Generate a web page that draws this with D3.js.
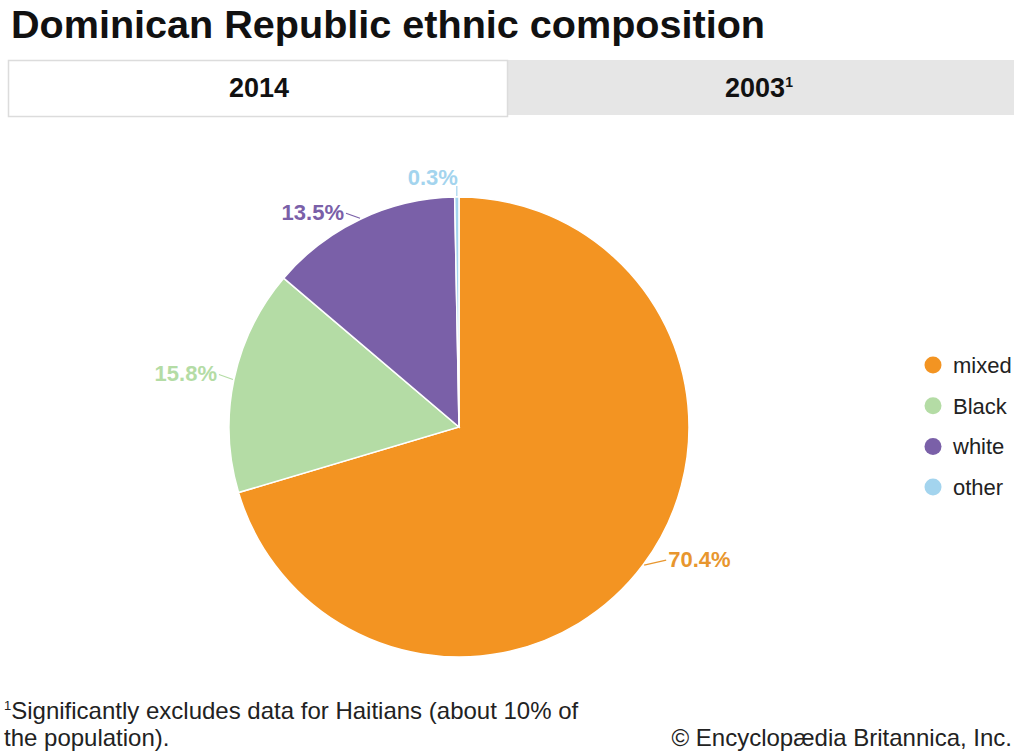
<!DOCTYPE html>
<html>
<head>
<meta charset="utf-8">
<script src="https://cdn.jsdelivr.net/npm/d3@7"></script>
<style>
  body { margin: 0; background: #fff; }
  svg { display: block; font-family: "Liberation Sans", Arial, sans-serif; }
</style>
</head>
<body>
<div id="chart"></div>
<script>
// Data
const categories = ["mixed", "Black", "white", "other"];
const values = [70.4, 15.8, 13.5, 0.3];
const labels = ["70.4%", "15.8%", "13.5%", "0.3%"];
const colors = ["#F39422", "#B4DCA5", "#7A60A8", "#A3D4EE"];
const labelColors = ["#E8962E", "#B4DCA5", "#7A60A8", "#A3D4EE"];
const tabs = ["2014", "2003"];

const width = 1024, height = 753;

const svg = d3.select("#chart")
    .append("svg")
    .attr("width", width)
    .attr("height", height);

// Title
svg.append("text")
    .attr("x", 11)
    .attr("y", 38)
    .attr("font-size", 39)
    .attr("font-weight", "bold")
    .attr("fill", "#111")
    .attr("textLength", 754)
    .attr("lengthAdjust", "spacingAndGlyphs")
    .text("Dominican Republic ethnic composition");

// Tabs
svg.append("rect")
    .attr("x", 507).attr("y", 60)
    .attr("width", 507).attr("height", 55)
    .attr("fill", "#e6e6e6");

svg.append("rect")
    .attr("x", 8.5).attr("y", 60.5)
    .attr("width", 499).attr("height", 56)
    .attr("fill", "#fff")
    .attr("stroke", "#dcdcdc")
    .attr("stroke-width", 1.5);

svg.append("text")
    .attr("x", 259).attr("y", 97)
    .attr("text-anchor", "middle")
    .attr("font-size", 27).attr("font-weight", "bold")
    .attr("fill", "#111")
    .text(tabs[0]);

const t2 = svg.append("text")
    .attr("x", 759).attr("y", 97)
    .attr("text-anchor", "middle")
    .attr("font-size", 27).attr("font-weight", "bold")
    .attr("fill", "#111");
t2.append("tspan").text(tabs[1]);
t2.append("tspan").attr("font-size", 14).attr("dy", -10).text("1");

// Pie
const cx = 459, cy = 427, radius = 230;
const g = svg.append("g").attr("transform", `translate(${cx},${cy})`);

const data = categories.map((c, i) => ({ name: c, value: values[i], label: labels[i], i }));

const pie = d3.pie().sort(null).value(d => d.value);
const arc = d3.arc().innerRadius(0).outerRadius(radius);

const arcs = pie(data);

g.selectAll("path.slice")
    .data(arcs)
    .enter()
    .append("path")
    .attr("class", "slice")
    .attr("d", arc)
    .attr("fill", d => colors[d.data.i])
    .attr("stroke", "#fff")
    .attr("stroke-width", 1.5);

// Labels with leader lines
arcs.forEach(d => {
    const a = (d.startAngle + d.endAngle) / 2;
    const sx = Math.sin(a), sy = -Math.cos(a);
    const p0 = [sx * (radius + 1), sy * (radius + 1)];
    const col = labelColors[d.data.i];
    let p1, tx, ty, anchor;
    if (Math.abs(sx) < 0.05) {
        // near the top: vertical leader, text above
        p1 = [p0[0], p0[1] - 10];
        tx = p1[0] + 1; ty = p1[1] - 1; anchor = "end";
    } else {
        const side = sx > 0 ? 1 : -1;
        const len = side > 0 ? 22 : 14;
        p1 = [p0[0] + side * len, p0[1] - 5];
        tx = p1[0] + side * 2; ty = p1[1] + 7; anchor = side > 0 ? "start" : "end";
    }
    g.append("path")
        .attr("d", d3.line()([p0, p1]))
        .attr("stroke", col)
        .attr("stroke-width", 1.2)
        .attr("fill", "none");
    g.append("text")
        .attr("x", tx).attr("y", ty)
        .attr("text-anchor", anchor)
        .attr("font-size", 22).attr("font-weight", "bold")
        .attr("fill", col)
        .text(d.data.label);
});

// Legend
const legend = svg.append("g").attr("transform", "translate(933,365)");
categories.forEach((c, i) => {
    legend.append("circle")
        .attr("cx", 0).attr("cy", i * 40.7)
        .attr("r", 8.5)
        .attr("fill", colors[i]);
    legend.append("text")
        .attr("x", 20).attr("y", i * 40.7 + 8)
        .attr("font-size", 22)
        .attr("fill", "#222")
        .text(c);
});

// Footer
const f1 = svg.append("text")
    .attr("x", 4).attr("y", 719)
    .attr("font-size", 24).attr("fill", "#222");
f1.append("tspan").attr("font-size", 13).attr("dy", -9).text("1");
f1.append("tspan").attr("dy", 9).text("Significantly excludes data for Haitians (about 10% of");

svg.append("text")
    .attr("x", 4).attr("y", 746)
    .attr("font-size", 24).attr("fill", "#222")
    .text("the population).");

svg.append("text")
    .attr("x", 1012).attr("y", 746)
    .attr("text-anchor", "end")
    .attr("font-size", 24).attr("fill", "#222")
    .text("© Encyclopædia Britannica, Inc.");
</script>
</body>
</html>
